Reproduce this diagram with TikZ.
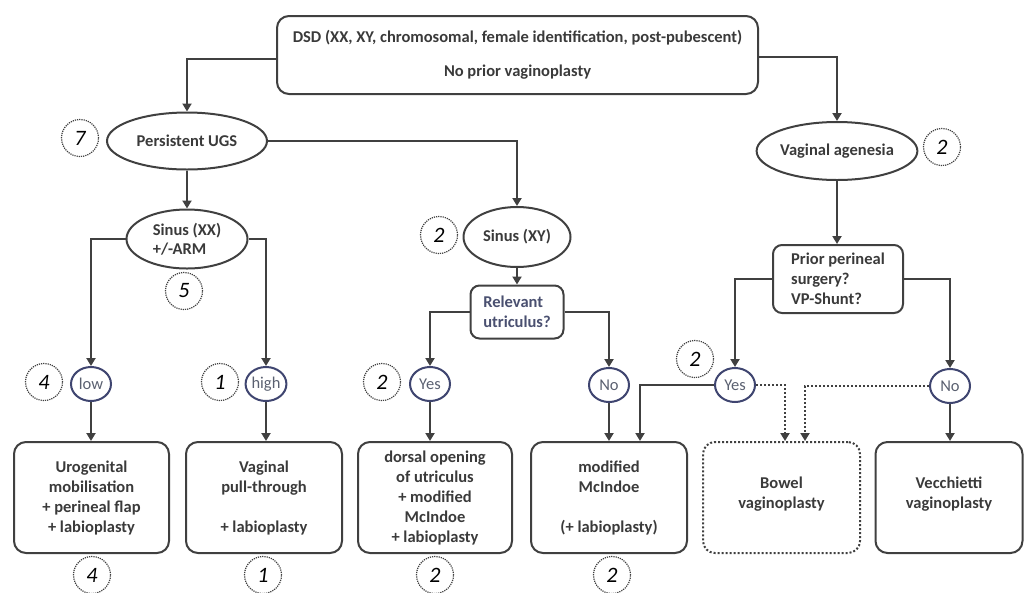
\documentclass[tikz,border=0pt]{standalone}
\usepackage{fontspec}
\setmainfont{Carlito}
\usetikzlibrary{shapes.geometric,arrows.meta}
\definecolor{ln}{HTML}{404040}
\definecolor{nav}{HTML}{3F4570}
\definecolor{tx}{HTML}{3A3A3A}
\definecolor{btx}{HTML}{4A5070}
\definecolor{stx}{HTML}{5A6070}
\tikzset{
  conn/.style={draw=ln, line width=2pt, -{Triangle[length=8pt,width=9pt]}},
  dconn/.style={draw=ln, line width=2pt, dotted, -{Triangle[length=8pt,width=9pt]}},
  mainfont/.style={font=\fontsize{16.5}{20}\selectfont\bfseries, text=tx},
  bigell/.style={ellipse, draw=ln, line width=2pt, inner sep=0pt, mainfont},
  rbox/.style={rectangle, rounded corners=12pt, draw=ln, line width=2pt, inner sep=0pt, align=center, mainfont},
  qbox/.style={rectangle, rounded corners=9pt, draw=ln, line width=2pt, inner sep=0pt, align=left, mainfont},
  small/.style={ellipse, draw=nav, line width=2pt, minimum width=40pt, minimum height=34pt, inner sep=0pt, font=\fontsize{16.5}{18}\selectfont, text=stx},
  cnt/.style={circle, draw=ln, densely dotted, line width=1.2pt, minimum size=37pt, inner sep=0pt, font=\fontsize{22}{22}\selectfont\itshape, text=black},
}
\begin{document}
\begin{tikzpicture}[x=1pt,y=-1pt]
\useasboundingbox (0,0) rectangle (1024,592);
% top
\node[rbox, minimum width=481pt, minimum height=78pt] (top) at (517.5,55)
  {DSD (XX, XY, chromosomal, female identification, post-pubescent)\\[14pt]No prior vaginoplasty};
% level 2
\node[bigell, minimum width=160pt, minimum height=57pt] (pugs) at (187,141) {Persistent UGS};
\node[cnt] (c7) at (80,138) {7};
\node[bigell, minimum width=160pt, minimum height=58pt] (va) at (837,151) {Vaginal agenesia};
\node[cnt] (c2c) at (942,147) {2};
% level 3
\node[bigell, minimum width=121pt, minimum height=59pt, align=left] (sxx) at (187,239) {Sinus (XX)\\[-1pt]+/-ARM};
\node[cnt] (c5) at (184,291) {5};
\node[bigell, minimum width=107pt, minimum height=60pt] (sxy) at (517,237) {Sinus (XY)};
\node[cnt] (c2a) at (439,235) {2};
\node[qbox, minimum width=93pt, minimum height=53pt, text=btx] (util) at (517,312) {Relevant\\utriculus?};
\node[qbox, minimum width=130pt, minimum height=68pt] (prior) at (838,279) {Prior perineal\\surgery?\\VP-Shunt?};
% small decisions
\node[small] (low) at (91,384) {low};
\node[cnt] (c4a) at (44,382) {4};
\node[small] (high) at (266,384) {high};
\node[cnt] (c1a) at (220,382) {1};
\node[small] (yesA) at (430,384) {Yes};
\node[cnt] (c2b) at (382,382) {2};
\node[small] (noA) at (609,385) {No};
\node[small] (yesB) at (735,385) {Yes};
\node[cnt] (c2d) at (695,359) {2};
\node[small] (noB) at (950,386) {No};
% bottom boxes
\node[rbox, minimum width=155pt, minimum height=111pt] (b1) at (91.5,497.5)
  {Urogenital\\mobilisation\\+ perineal flap\\+ labioplasty};
\node[rbox, minimum width=156pt, minimum height=111pt] (b2) at (264,497.5)
  {Vaginal\\pull-through\\[20pt]+ labioplasty};
\node[rbox, minimum width=154pt, minimum height=111pt] (b3) at (435,497.5)
  {dorsal opening\\of utriculus\\+ modified\\McIndoe\\+ labioplasty};
\node[rbox, minimum width=156pt, minimum height=111pt] (b4) at (609,497.5)
  {modified\\McIndoe\\[20pt](+ labioplasty)};
\node[rbox, dotted, minimum width=157pt, minimum height=111pt] (b5) at (781.5,497.5)
  {Bowel\\vaginoplasty\\[-10pt]\mbox{}};
\node[rbox, minimum width=147pt, minimum height=111pt] (b6) at (949,497.5)
  {Vecchietti\\vaginoplasty\\[-10pt]\mbox{}};
% bottom counts
\node[cnt] (c4b) at (92,575) {4};
\node[cnt] (c1b) at (263,575) {1};
\node[cnt] (c2e) at (435,575) {2};
\node[cnt] (c2f) at (612,575) {2};
% connectors
\draw[conn] ([yshift=-4pt]top.west) -| (pugs.north);
\draw[conn] ([yshift=-2pt]top.east) -| (va.north);
\draw[conn] (pugs.south) -- (sxx.north);
\draw[conn] (pugs.east) -| (sxy.north);
\draw[conn] (sxx.west) -| (low.north);
\draw[conn] (sxx.east) -| (high.north);
\draw[conn] (low.south) -- (low.south |- b1.north);
\draw[conn] (high.south) -- (high.south |- b2.north);
\draw[conn] (sxy.south) -- (util.north);
\draw[conn] (util.west) -| (yesA.north);
\draw[conn] (util.east) -| (noA.north);
\draw[conn] (yesA.south) -- (yesA.south |- b3.north);
\draw[conn] (noA.south) -- (noA.south |- b4.north);
\draw[conn] (va.south) -- (va.south |- prior.north);
\draw[conn] (prior.west) -| (yesB.north);
\draw[conn] (prior.east) -| (noB.north);
\draw[conn] (yesB.west) -| ([xshift=31pt]b4.north);
\draw[dconn] (yesB.east) -| ([xshift=3.5pt]b5.north);
\draw[dconn] (noB.west) -| ([xshift=23.5pt]b5.north);
\draw[conn] (noB.south) -- (noB.south |- b6.north);
\end{tikzpicture}
\end{document}
